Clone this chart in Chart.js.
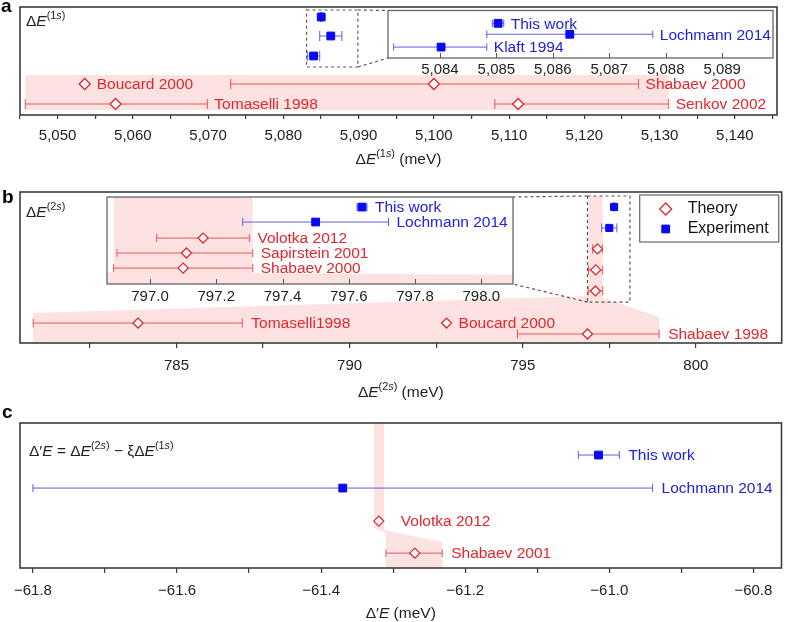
<!DOCTYPE html>
<html>
<head>
<meta charset="utf-8">
<script src="https://cdn.jsdelivr.net/npm/chart.js@4.4.1/dist/chart.umd.min.js"></script>
<style>
body { margin: 0; background: #fff; }
#wrap { position: relative; width: 788px; height: 622px; overflow: hidden; }
canvas { position: absolute; }
</style>
</head>
<body>
<div id="wrap">
  <canvas id="mainA" width="788" height="170" style="left:0;top:0"></canvas>
  <canvas id="mainB" width="788" height="235" style="left:0;top:175px"></canvas>
  <canvas id="mainC" width="788" height="222" style="left:0;top:400px"></canvas>
  <canvas id="insetA" width="400" height="80" style="left:380px;top:4px"></canvas>
  <canvas id="insetB" width="420" height="120" style="left:100px;top:190px"></canvas>
</div>
<script>
// ---- panel a : ΔE(1s) (meV) ----
var aRange = [5045, 5145.6];
var aTheoryNames = ['Boucard 2000', 'Shabaev 2000', 'Tomaselli 1998', 'Senkov 2002'];
var aTheoryValues = [5053.6, 5100.0, 5057.7, 5111.2];
var aTheoryLow = [null, 5073.0, 5045.7, 5108.1];
var aTheoryHigh = [null, 5127.2, 5069.9, 5131.2];
var aTheoryRows = [3.85, 3.85, 4.85, 4.85];
var aExpNames = ['This work', 'Lochmann 2014', 'Klaft 1994'];
var aExpValues = [5085.03, 5086.3, 5084.02];
var aExpLow = [5084.93, 5084.83, 5083.18];
var aExpHigh = [5085.13, 5087.77, 5084.83];
var aExpRows = [0.5, 1.45, 2.45];
var aInsetRange = [5083.08, 5089.9];
var aInsetRows = [0.81, 1.5, 2.31];
var aZoomRows = [0.15, 3.0];
var aBand = [[5045.7, 3.4], [5131.2, 3.4], [5131.2, 5.15], [5045.7, 5.15]];

// ---- panel b : ΔE(2s) (meV) ----
var bRange = [780.48, 802.48];
var bTheoryNames = ['Tomaselli1998', 'Boucard 2000', 'Shabaev 1998'];
var bTheoryValues = [783.89, 792.8, 796.87];
var bTheoryLow = [780.86, null, 794.85];
var bTheoryHigh = [786.9, null, 798.94];
var bTheoryRows = [6.24, 6.24, 6.76];
var bNewNames = ['Volotka 2012', 'Sapirstein 2001', 'Shabaev 2000'];
var bNewValues = [797.16, 797.11, 797.1];
var bNewLow = [797.02, 796.9, 796.89];
var bNewHigh = [797.3, 797.31, 797.31];
var bNewMainRows = [2.71, 3.71, 4.71];
var bNewInsetRows = [2.69, 3.67, 4.66];
var bExpNames = ['This work', 'Lochmann 2014'];
var bExpValues = [797.64, 797.5];
var bExpLow = [797.625, 797.28];
var bExpHigh = [797.655, 797.72];
var bExpMainRows = [0.71, 1.71];
var bExpInsetRows = [0.66, 1.64];
var bInsetRange = [796.87, 798.096];
var bZoomRows = [0.19, 5.24];
var bBand = [[796.89, 0.19], [797.31, 0.19], [797.31, 5.05], [798.94, 5.95], [798.94, 7.19],
             [780.86, 7.19], [780.86, 5.76], [796.89, 4.95]];
var bInsetBands = [
  [[796.89, 0], [797.31, 0], [797.31, 5.7], [796.89, 5.7]],
  [[796.87, 4.95], [798.096, 5.1], [798.096, 5.7], [796.87, 5.7]]
];

// ---- panel c : Δ'E (meV) ----
var cRange = [-61.818, -60.761];
var cExpNames = ['This work', 'Lochmann 2014'];
var cExpValues = [-61.015, -61.37];
var cExpLow = [-61.043, -61.8];
var cExpHigh = [-60.986, -60.94];
var cExpRows = [0.97, 1.97];
var cTheoryNames = ['Volotka 2012', 'Shabaev 2001'];
var cTheoryValues = [-61.32, -61.27];
var cTheoryLow = [null, -61.31];
var cTheoryHigh = [null, -61.232];
var cTheoryRows = [2.97, 3.94];
var cBand = [[-61.3265, 0], [-61.3127, 0], [-61.3127, 3.24], [-61.232, 3.6], [-61.232, 4.39],
             [-61.31, 4.39], [-61.31, 3.33], [-61.3265, 3.18]];

var RED = '#e3262d', RED_BAR = '#e8575c', BLUE = '#0808f2', BLUE_BAR = '#5c5cf0', BLUE_TXT = '#2121dc';
var PINK = '#fde2e2';
var FONT = "'Liberation Sans', Arial, Helvetica, sans-serif";
Chart.defaults.font.family = FONT;
Chart.defaults.font.size = 15;
Chart.defaults.color = '#222';

function setFont(ctx, style, size) {
  var sup = style.charAt(0) === 's';
  var it = style.indexOf('i') >= 0;
  ctx.font = (it ? 'italic ' : '') + (sup ? size * 0.7 : size) + 'px ' + FONT;
}
// text with italic / superscript pieces
function richText(ctx, parts, x, y, size, align) {
  var total = 0;
  parts.forEach(function (p) { setFont(ctx, p[1], size); total += ctx.measureText(p[0]).width; });
  if (align === 'center') x -= total / 2;
  ctx.textAlign = 'left';
  ctx.textBaseline = 'alphabetic';
  ctx.fillStyle = '#222';
  parts.forEach(function (p) {
    setFont(ctx, p[1], size);
    var sup = p[1].charAt(0) === 's';
    ctx.fillText(p[0], x, sup ? y - size * 0.42 : y);
    x += ctx.measureText(p[0]).width;
  });
}
var E1s = [['Δ', 'n'], ['E', 'i'], ['(1', 's'], ['s', 'si'], [')', 's']];
var E2s = [['Δ', 'n'], ['E', 'i'], ['(2', 's'], ['s', 'si'], [')', 's']];
var meV = [[' (meV)', 'n']];

function polyFill(chart, polys) {
  var xs = chart.scales.x, ys = chart.scales.y, ctx = chart.ctx, ca = chart.chartArea;
  ctx.save();
  ctx.beginPath();
  ctx.rect(ca.left, ca.top, ca.right - ca.left, ca.bottom - ca.top);
  ctx.clip();
  ctx.fillStyle = PINK;
  polys.forEach(function (poly) {
    ctx.beginPath();
    poly.forEach(function (pt, i) {
      var X = xs.getPixelForValue(pt[0]), Y = ys.getPixelForValue(pt[1]);
      if (i === 0) ctx.moveTo(X, Y); else ctx.lineTo(X, Y);
    });
    ctx.closePath();
    ctx.fill();
  });
  ctx.restore();
}

function makeChart(id, o) {
  var datasets = [];
  o.series.forEach(function (s) {
    for (var i = 0; i < s.values.length; i++) {
      if (s.low && s.low[i] != null) {
        var col = s.theory ? RED_BAR : BLUE_BAR;
        datasets.push({
          showLine: true,
          data: [{x: s.low[i], y: s.rows[i]}, {x: s.high[i], y: s.rows[i]}],
          borderColor: col, borderWidth: 1,
          pointStyle: 'line', pointRotation: 90, pointRadius: o.cap,
          pointBorderColor: col, pointBorderWidth: 1, order: 3
        });
      }
    }
    datasets.push({
      data: s.values.map(function (v, i) { return {x: v, y: s.rows[i]}; }),
      pointStyle: s.theory ? 'rectRot' : 'rect',
      pointRadius: s.theory ? o.diamond : o.square,
      pointBackgroundColor: s.theory ? '#fff' : BLUE,
      pointBorderColor: s.theory ? RED : BLUE,
      pointBorderWidth: s.theory ? 1.3 : 1,
      order: 1
    });
  });

  var extras = {
    id: 'extras',
    beforeDraw: function (chart) {
      var ca = chart.chartArea, ctx = chart.ctx;
      if (o.inset) {
        ctx.save();
        ctx.fillStyle = '#fff';
        ctx.fillRect(ca.left, ca.top, ca.right - ca.left, ca.bottom - ca.top);
        ctx.restore();
      }
    },
    beforeDatasetsDraw: function (chart) {
      if (o.bands) polyFill(chart, o.bands);
    },
    afterDatasetsDraw: function (chart) {
      var xs = chart.scales.x, ys = chart.scales.y, ctx = chart.ctx, ca = chart.chartArea;
      ctx.save();
      // point labels
      ctx.font = '15.5px ' + FONT;
      ctx.textBaseline = 'middle';
      ctx.textAlign = 'left';
      o.series.forEach(function (s) {
        if (!s.names) return;
        s.values.forEach(function (v, i) {
          var X;
          if (s.gaps && s.gaps[i] != null) X = xs.getPixelForValue(v) + s.gaps[i];
          else if (s.high && s.high[i] != null) X = xs.getPixelForValue(s.high[i]) + o.gap;
          else X = xs.getPixelForValue(v) + 12;
          ctx.fillStyle = s.theory ? RED : BLUE_TXT;
          ctx.fillText(s.names[i], X, ys.getPixelForValue(s.rows[i]) + 1);
        });
      });
      // zoom box and connectors to the inset
      if (o.zoom) {
        var z = o.zoom, ia = z.inset.chartArea;
        var x0 = xs.getPixelForValue(z.range[0]), x1 = xs.getPixelForValue(z.range[1]);
        var y0 = ys.getPixelForValue(z.rows[0]), y1 = ys.getPixelForValue(z.rows[1]);
        var il = z.dx + ia.left, ir = z.dx + ia.right, it = z.dy + ia.top, ib = z.dy + ia.bottom;
        ctx.strokeStyle = '#555';
        ctx.lineWidth = 1.2;
        ctx.setLineDash([3, 3]);
        ctx.strokeRect(x0, y0, x1 - x0, y1 - y0);
        ctx.beginPath();
        if (z.side === 'right') {
          ctx.moveTo(x1, y0); ctx.lineTo(il, it);
          ctx.moveTo(x1, y1); ctx.lineTo(il, ib);
        } else {
          ctx.moveTo(x0, y0); ctx.lineTo(ir, it);
          ctx.moveTo(x0, y1); ctx.lineTo(ir, ib);
        }
        ctx.stroke();
      }
      ctx.restore();
    },
    afterDraw: function (chart) {
      var ctx = chart.ctx, ca = chart.chartArea, xs = chart.scales.x;
      ctx.save();
      ctx.setLineDash([]);
      // inward ticks on the insets
      if (o.inset) {
        ctx.strokeStyle = '#555';
        ctx.lineWidth = 1;
        ctx.beginPath();
        xs.ticks.forEach(function (t) {
          var X = Math.round(xs.getPixelForValue(t.value)) + 0.5;
          ctx.moveTo(X, ca.bottom); ctx.lineTo(X, ca.bottom - 5);
        });
        ctx.stroke();
      }
      // frame
      ctx.strokeStyle = o.inset ? '#666' : '#3c3c3c';
      ctx.lineWidth = o.inset ? 1.3 : 1.6;
      ctx.strokeRect(ca.left, ca.top, ca.right - ca.left, ca.bottom - ca.top);
      // legend
      if (o.legend) {
        var lx = ca.right - 142, ly = ca.top + 3;
        ctx.fillStyle = '#fff';
        ctx.fillRect(lx, ly, 139, 47);
        ctx.strokeStyle = '#666';
        ctx.lineWidth = 1.2;
        ctx.strokeRect(lx, ly, 139, 47);
        ctx.fillStyle = '#fff'; ctx.strokeStyle = RED; ctx.lineWidth = 1.3;
        Chart.helpers.drawPoint(ctx, {pointStyle: 'rectRot', radius: 6, rotation: 0, borderWidth: 1.3}, lx + 26, ly + 14);
        ctx.fillStyle = BLUE; ctx.strokeStyle = BLUE; ctx.lineWidth = 1;
        Chart.helpers.drawPoint(ctx, {pointStyle: 'rect', radius: 5.5, rotation: 0, borderWidth: 1}, lx + 26, ly + 34);
        ctx.fillStyle = '#111';
        ctx.font = '16px ' + FONT;
        ctx.textBaseline = 'middle';
        ctx.textAlign = 'left';
        ctx.fillText('Theory', lx + 48, ly + 14);
        ctx.fillText('Experiment', lx + 48, ly + 34);
      }
      // corner formula, axis title, panel letter
      if (o.corner) richText(ctx, o.corner, ca.left + o.cornerAt[0], ca.top + o.cornerAt[1], 15.5, 'left');
      if (o.title) richText(ctx, o.title, (ca.left + ca.right) / 2, ca.bottom + o.titleAt, 15.5, 'center');
      if (o.letter) {
        ctx.fillStyle = '#000';
        ctx.font = 'bold 19px ' + FONT;
        ctx.textBaseline = 'alphabetic';
        ctx.textAlign = 'left';
        ctx.fillText(o.letter[0], o.letter[1], o.letter[2]);
      }
      ctx.restore();
    }
  };

  return new Chart(document.getElementById(id), {
    type: 'scatter',
    data: {datasets: datasets},
    options: {
      responsive: false,
      animation: false,
      devicePixelRatio: 1,
      events: [],
      layout: {padding: o.padding},
      plugins: {legend: {display: false}, tooltip: {enabled: false}},
      scales: {
        x: {
          type: 'linear',
          min: o.range[0],
          max: o.range[1],
          afterFit: function (scale) { scale.height = o.axisHeight; },
          border: {display: false},
          grid: {drawOnChartArea: false, drawTicks: !o.inset, tickLength: o.tickLength || 5, color: '#3c3c3c', lineWidth: 1.2},
          ticks: {
            stepSize: o.step,
            includeBounds: false,
            autoSkip: false,
            maxRotation: 0,
            padding: o.tickPad,
            color: '#222',
            font: {size: 15},
            callback: o.fmt
          }
        },
        y: {type: 'linear', display: false, reverse: true, min: 0, max: o.yMax}
      }
    },
    plugins: [extras]
  });
}

function isMult(v, m) { return Math.abs(Math.round(v / m) * m - v) < 1e-6; }

// insets first, the main panels draw connectors to them
var insetA = makeChart('insetA', {
  inset: true, range: aInsetRange, yMax: 3.0, step: 1, tickPad: 3, axisHeight: 26,
  padding: {left: 8, top: 6, right: 7, bottom: 0},
  cap: 3.7, diamond: 5.5, square: 5.5, gap: 7,
  fmt: function (v) { return v.toLocaleString('en-US'); },
  series: [{theory: false, names: aExpNames, values: aExpValues, low: aExpLow, high: aExpHigh, rows: aInsetRows}]
});

var insetB = makeChart('insetB', {
  inset: true, range: bInsetRange, yMax: 5.7, step: 0.2, tickPad: 4, axisHeight: 26,
  padding: {left: 7, top: 7, right: 7, bottom: 0},
  cap: 4, diamond: 5, square: 5.5, gap: 8, bands: bInsetBands,
  fmt: function (v) { return v.toFixed(1); },
  series: [
    {theory: true, names: bNewNames, values: bNewValues, low: bNewLow, high: bNewHigh, rows: bNewInsetRows},
    {theory: false, names: bExpNames, values: bExpValues, low: bExpLow, high: bExpHigh, rows: bExpInsetRows}
  ]
});

makeChart('mainA', {
  range: aRange, yMax: 5.4, step: 5, tickLength: 4, tickPad: 8, axisHeight: 55,
  padding: {left: 20, top: 7, right: 11, bottom: 0},
  cap: 5, diamond: 5.5, square: 5.5, gap: 7, bands: [aBand],
  fmt: function (v) { return isMult(v, 10) ? v.toLocaleString('en-US') : ''; },
  series: [
    {theory: true, names: aTheoryNames, values: aTheoryValues, low: aTheoryLow, high: aTheoryHigh, rows: aTheoryRows},
    {theory: false, names: null, values: aExpValues, low: aExpLow, high: aExpHigh, rows: aExpRows}
  ],
  zoom: {inset: insetA, range: aInsetRange, rows: aZoomRows, dx: 380, dy: 4, side: 'right'},
  corner: E1s, cornerAt: [6, 19],
  title: E1s.concat(meV), titleAt: 49,
  letter: ['a', 1, 12]
});

makeChart('mainB', {
  range: bRange, yMax: 7.19, step: 2.5, tickLength: 5, tickPad: 9, axisHeight: 67,
  padding: {left: 20, top: 17, right: 4, bottom: 0},
  cap: 4.5, diamond: 5, square: 5, gap: 9, bands: [bBand], legend: true,
  fmt: function (v) { return isMult(v, 5) ? String(v) : ''; },
  series: [
    {theory: true, names: bTheoryNames, values: bTheoryValues, low: bTheoryLow, high: bTheoryHigh, rows: bTheoryRows},
    {theory: true, names: null, values: bNewValues, low: bNewLow, high: bNewHigh, rows: bNewMainRows},
    {theory: false, names: null, values: bExpValues, low: bExpLow, high: bExpHigh, rows: bExpMainRows}
  ],
  zoom: {inset: insetB, range: bInsetRange, rows: bZoomRows, dx: 100, dy: 15, side: 'left'},
  corner: E2s, cornerAt: [6, 25],
  title: E2s.concat(meV), titleAt: 54,
  letter: ['b', 2, 28]
});

makeChart('mainC', {
  range: cRange, yMax: 4.39, step: 0.1, tickLength: 5, tickPad: 9, axisHeight: 54,
  padding: {left: 20, top: 23, right: 5, bottom: 0},
  cap: 4, diamond: 5, square: 5.5, gap: 9, bands: [cBand],
  fmt: function (v) { return isMult(v, 0.2) ? '\u2212' + Math.abs(v).toFixed(1) : ''; },
  series: [
    {theory: false, names: cExpNames, values: cExpValues, low: cExpLow, high: cExpHigh, rows: cExpRows},
    {theory: true, names: cTheoryNames, values: cTheoryValues, low: cTheoryLow, high: cTheoryHigh, rows: cTheoryRows, gaps: [22, null]}
  ],
  corner: [['Δ′', 'n'], ['E', 'i'], [' = Δ', 'n'], ['E', 'i'], ['(2', 's'], ['s', 'si'], [')', 's'],
           [' − ξΔ', 'n'], ['E', 'i'], ['(1', 's'], ['s', 'si'], [')', 's']],
  cornerAt: [9, 33],
  title: [['Δ′', 'n'], ['E', 'i']].concat(meV), titleAt: 50,
  letter: ['c', 2, 18]
});
</script>
</body>
</html>
